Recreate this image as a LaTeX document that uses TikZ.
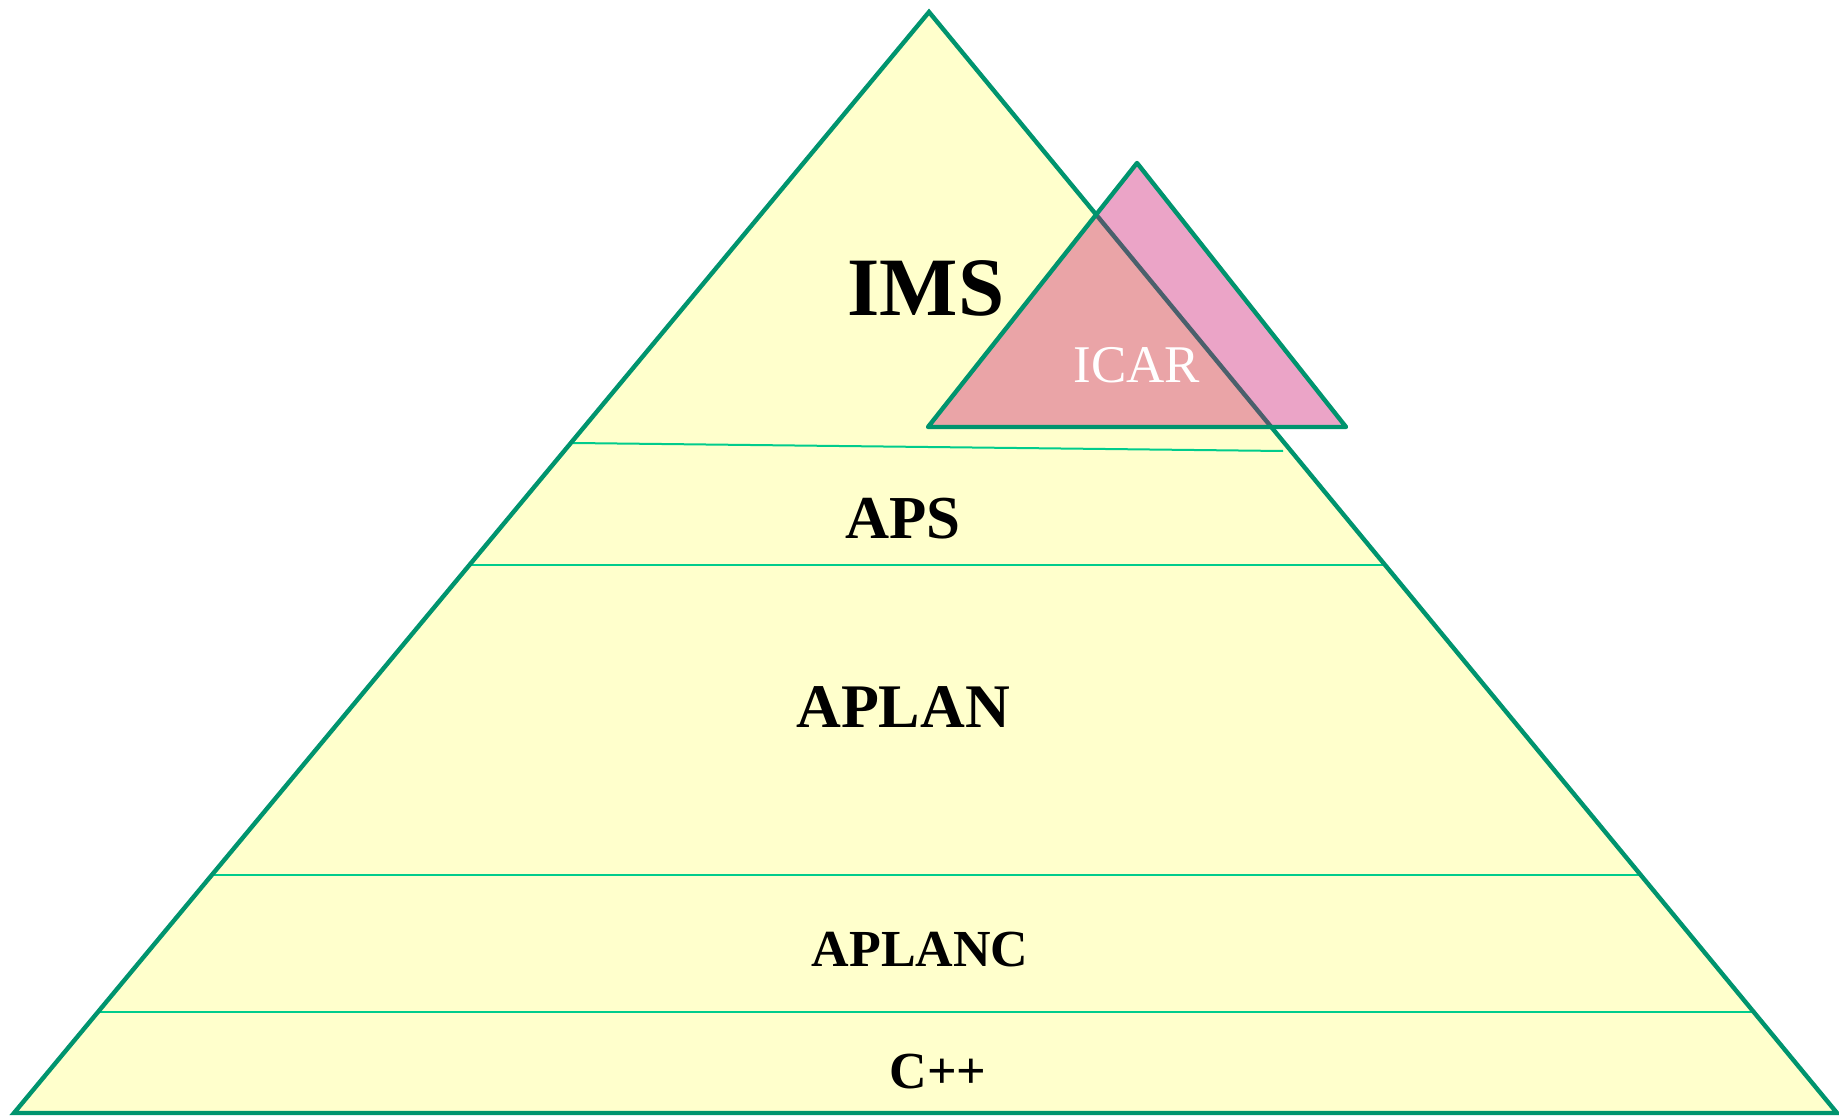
\documentclass[tikz,border=0pt]{standalone}
\usepackage{fontspec}
\setmainfont{Liberation Serif}
\definecolor{pyrfill}{RGB}{255,255,204}
\definecolor{pyredge}{RGB}{0,148,110}
\definecolor{sepline}{RGB}{0,204,140}
\definecolor{icarfill}{RGB}{201,11,105}
\begin{document}
\begin{tikzpicture}[x=0.5pt,y=-0.5pt,
  edge/.style={draw=pyredge,line width=2.2pt},
  divider/.style={draw=sepline,line width=1pt},
  layer/.style={text=black,inner sep=0pt,anchor=base}]
\useasboundingbox (0,0) rectangle (1839,1117);
% main pyramid
\coordinate (apex) at (929,12);
\coordinate (bl) at (14,1113);
\coordinate (br) at (1837,1113);
\fill[pyrfill] (apex) -- (bl) -- (br) -- cycle;
% layer separators
\coordinate (d1l) at (573,443);  \coordinate (d1r) at (1283,451);
\coordinate (d2l) at (469,565);  \coordinate (d2r) at (1385,565);
\coordinate (d3l) at (212,875);  \coordinate (d3r) at (1641,875);
\coordinate (d4l) at (98,1012);  \coordinate (d4r) at (1754,1012);
\draw[divider] (d1l) -- (d1r);
\draw[divider] (d2l) -- (d2r);
\draw[divider] (d3l) -- (d3r);
\draw[divider] (d4l) -- (d4r);
\draw[edge,line join=miter] (apex) -- (bl) -- (br) -- cycle;
% ICAR triangle, translucent over the pyramid
\coordinate (ia) at (1137,163);
\coordinate (ib) at (928,427);
\coordinate (ic) at (1346,427);
\fill[icarfill,fill opacity=0.373] (ia) -- (ib) -- (ic) -- cycle;
\draw[edge,line join=round] (ia) -- (ib) -- (ic) -- cycle;
% labels
\node[layer,font=\bfseries\fontsize{41.5pt}{44pt}\selectfont] (ims) at (926,315) {IMS};
\node[layer,font=\fontsize{26.5pt}{28pt}\selectfont,text=white] (icar) at (1137,382) {ICAR};
\node[layer,font=\bfseries\fontsize{30.5pt}{32pt}\selectfont] (aps) at (903,538) {APS};
\node[layer,font=\bfseries\fontsize{31pt}{33pt}\selectfont] (aplan) at (903,727) {APLAN};
\node[layer,font=\bfseries\fontsize{26pt}{28pt}\selectfont] (aplanc) at (920,966) {APLANC};
\node[layer,font=\bfseries\fontsize{26pt}{28pt}\selectfont] (cpp) at (938,1088) {C++};
\end{tikzpicture}
\end{document}
